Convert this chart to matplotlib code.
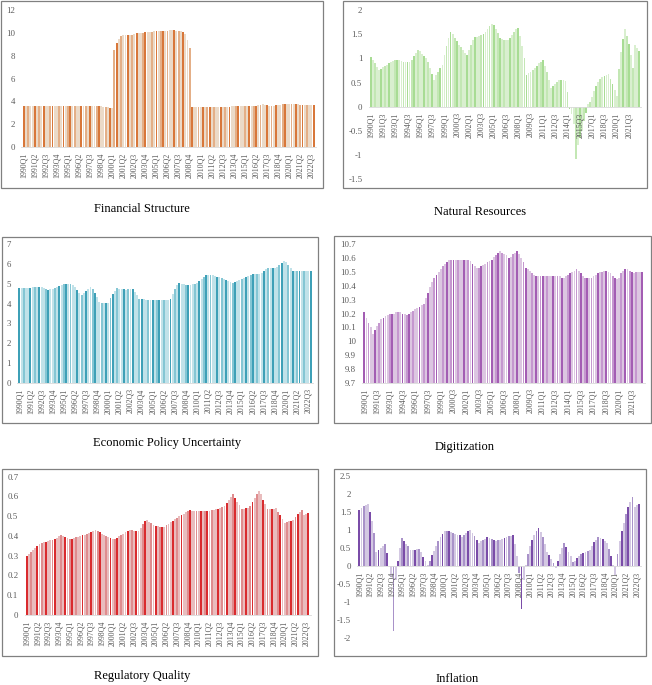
import matplotlib
matplotlib.use('Agg')
import matplotlib.pyplot as plt
from matplotlib.patches import Rectangle

plt.rcParams['font.family'] = ['Liberation Serif', 'DejaVu Serif']

W, H = 652, 685
quarters = [f"{y}Q{q}" for y in range(1990, 2023) for q in range(1, 5)]

financial_structure = [
    3.55, 3.55, 3.58, 3.6, 3.6, 3.58, 3.55, 3.55, 3.58, 3.6,
    3.62, 3.62, 3.62, 3.62, 3.6, 3.6, 3.58, 3.57, 3.57, 3.57,
    3.58, 3.6, 3.62, 3.62, 3.62, 3.62, 3.6, 3.58, 3.58, 3.6,
    3.62, 3.62, 3.6, 3.58, 3.58, 3.55, 3.52, 3.5, 3.48, 3.45,
    3.45,
    8.5, 9.1, 9.5, 9.75, 9.8, 9.8, 9.8, 9.82, 9.85, 9.9,
    9.95, 9.98, 10.0, 10.02, 10.05, 10.07, 10.08, 10.1, 10.12, 10.13,
    10.15, 10.17, 10.18, 10.2, 10.2, 10.22, 10.22, 10.22, 10.2, 10.18,
    10.15, 10.1, 9.9, 9.4, 8.7,
    3.52, 3.52, 3.52, 3.52, 3.52, 3.52, 3.52, 3.52, 3.52, 3.52,
    3.52, 3.5, 3.48, 3.48, 3.48, 3.48, 3.5, 3.52, 3.55, 3.58,
    3.6, 3.6, 3.6, 3.6, 3.58, 3.58, 3.58, 3.58, 3.6, 3.62,
    3.68, 3.72, 3.75, 3.72, 3.68, 3.62, 3.62, 3.62, 3.65, 3.68,
    3.72, 3.78, 3.8, 3.8, 3.8, 3.78, 3.76, 3.75, 3.74, 3.72,
    3.7, 3.7, 3.7, 3.7, 3.7, 3.7]

natural_resources = [
    1.03, 0.97, 0.9, 0.82, 0.75, 0.78, 0.82, 0.85, 0.87, 0.9,
    0.92, 0.95, 0.97, 0.97, 0.96, 0.94, 0.93, 0.92, 0.92,
    0.92, 0.97, 1.05, 1.12, 1.17, 1.15, 1.1, 1.05, 1.0, 0.93,
    0.8, 0.68, 0.55, 0.65, 0.72, 0.8, 0.87, 1.08, 1.25, 1.42,
    1.54, 1.5, 1.43, 1.35, 1.28, 1.23, 1.18, 1.12, 1.08, 1.18,
    1.28, 1.38, 1.45, 1.45, 1.47, 1.48, 1.5, 1.55, 1.6, 1.66,
    1.72, 1.68, 1.6, 1.53, 1.42,
    1.4, 1.39, 1.38, 1.37, 1.42, 1.48, 1.55, 1.6, 1.63, 1.47,
    1.25, 1.0, 0.66, 0.7, 0.72, 0.75, 0.8, 0.85, 0.9, 0.93,
    0.97, 0.85, 0.72, 0.56, 0.38, 0.42, 0.48, 0.52, 0.56, 0.55,
    0.55, 0.54, 0.3, -0.05, -0.15, -0.35, -1.08,
    -0.8, -0.65, -0.5, -0.3, -0.12, 0.05, 0.1, 0.2, 0.32, 0.42,
    0.52, 0.58, 0.62, 0.63, 0.65, 0.67, 0.57, 0.47, 0.35, 0.22,
    0.78, 1.13, 1.4, 1.6, 1.47, 1.3, 1.08, 0.8, 1.28, 1.22, 1.15]

policy_uncertainty = [
    4.8, 4.8, 4.8, 4.8, 4.8, 4.8, 4.82, 4.83, 4.85, 4.85,
    4.82, 4.78, 4.74, 4.71, 4.72, 4.75, 4.78, 4.82, 4.88, 4.95,
    5.0, 5.0, 4.98, 4.97, 4.92, 4.85, 4.7, 4.55, 4.42, 4.55,
    4.65, 4.75, 4.85, 4.75, 4.55, 4.35, 4.1, 4.05, 4.05, 4.03,
    4.02, 4.3, 4.5, 4.65, 4.78, 4.75, 4.73, 4.72, 4.7, 4.72,
    4.72, 4.72, 4.6, 4.45, 4.25, 4.22, 4.22, 4.2, 4.2, 4.2,
    4.2, 4.18, 4.18, 4.17, 4.17, 4.18, 4.2, 4.2, 4.22, 4.5,
    4.75, 4.95, 5.05, 5.0, 4.97, 4.95, 4.93, 4.95, 4.97, 5.0,
    5.05, 5.15, 5.25, 5.35, 5.45, 5.45, 5.45, 5.43, 5.4, 5.37,
    5.33, 5.3, 5.25, 5.2, 5.15, 5.1, 5.05, 5.1, 5.15, 5.2,
    5.25, 5.3, 5.35, 5.4, 5.45, 5.48, 5.48, 5.5, 5.5, 5.55,
    5.65, 5.75, 5.8, 5.82, 5.82, 5.82, 5.85, 5.95, 6.05, 6.15,
    6.08, 5.95, 5.8, 5.65, 5.65, 5.65, 5.65, 5.65, 5.65, 5.65,
    5.65, 5.65]

digitization = [
    10.21, 10.17, 10.13, 10.1, 10.05, 10.08, 10.11, 10.13, 10.16, 10.17,
    10.18, 10.19, 10.2, 10.2, 10.2, 10.21, 10.21, 10.21, 10.2, 10.2,
    10.19, 10.2, 10.21, 10.22, 10.23, 10.24, 10.25, 10.26, 10.27, 10.31,
    10.35, 10.39, 10.43, 10.46, 10.48, 10.5, 10.52, 10.54, 10.56, 10.57,
    10.59, 10.59, 10.59, 10.59, 10.59, 10.59, 10.59, 10.59, 10.59, 10.59,
    10.58, 10.56, 10.54, 10.53, 10.53, 10.54, 10.55, 10.56, 10.57, 10.58,
    10.59, 10.61, 10.62, 10.64, 10.65, 10.64, 10.63, 10.62, 10.6, 10.61,
    10.63, 10.64, 10.65, 10.63, 10.6, 10.57, 10.53, 10.52, 10.51, 10.49,
    10.48, 10.47, 10.47, 10.47, 10.47, 10.47, 10.47, 10.47, 10.47, 10.47,
    10.47, 10.47, 10.47, 10.46, 10.46, 10.47, 10.48, 10.49, 10.5, 10.51,
    10.52, 10.51, 10.49, 10.47, 10.46, 10.46, 10.46, 10.46, 10.47, 10.48,
    10.49, 10.5, 10.5, 10.51, 10.51, 10.5, 10.49, 10.47, 10.46, 10.45,
    10.46, 10.49, 10.51, 10.52, 10.52, 10.51, 10.5, 10.49, 10.5, 10.5,
    10.5, 10.5]

regulatory_quality = [
    0.30, 0.31, 0.32, 0.33, 0.34, 0.35, 0.36, 0.365, 0.37, 0.372,
    0.375, 0.378, 0.38, 0.385, 0.39, 0.398, 0.405, 0.40, 0.395, 0.39,
    0.385, 0.385, 0.39, 0.393, 0.397, 0.40, 0.403, 0.406, 0.41, 0.415,
    0.42, 0.425, 0.43, 0.425, 0.418, 0.41, 0.405, 0.40, 0.395, 0.39,
    0.385, 0.385, 0.39, 0.40, 0.405, 0.41, 0.418, 0.425, 0.43, 0.428,
    0.426, 0.425, 0.423, 0.44, 0.46, 0.475, 0.48, 0.47, 0.465, 0.455,
    0.45, 0.448, 0.447, 0.446, 0.445, 0.455, 0.462, 0.47, 0.478, 0.485,
    0.492, 0.50, 0.506, 0.512, 0.52, 0.525, 0.53, 0.525, 0.525, 0.525,
    0.525, 0.525, 0.525, 0.525, 0.525, 0.528, 0.53, 0.532, 0.535, 0.538,
    0.54, 0.545, 0.55, 0.565, 0.58, 0.595, 0.61, 0.59, 0.57, 0.555,
    0.535, 0.537, 0.54, 0.542, 0.55, 0.57, 0.59, 0.61, 0.63, 0.61,
    0.58, 0.56, 0.535, 0.535, 0.535, 0.537, 0.54, 0.52, 0.505, 0.485,
    0.465, 0.47, 0.475, 0.478, 0.48, 0.495, 0.51, 0.52, 0.53, 0.505,
    0.51, 0.515]

inflation = [
    1.55, 1.6, 1.65, 1.7, 1.73, 1.5, 1.25, 0.92, 0.4, 0.45,
    0.5, 0.55, 0.6, 0.37, 0.0, -0.3, -1.8, -0.4, 0.13, 0.5,
    0.77, 0.7, 0.62, 0.55, 0.45, 0.45, 0.45, 0.47, 0.47, 0.38,
    0.25, 0.13, 0.02, 0.15, 0.3, 0.42, 0.55, 0.68, 0.8, 0.9,
    0.98, 0.97, 0.96, 0.94, 0.92, 0.9, 0.87, 0.85, 0.8, 0.86,
    0.92, 0.97, 1.0, 0.92, 0.82, 0.72, 0.65, 0.68, 0.72, 0.76,
    0.79, 0.77, 0.75, 0.72, 0.7, 0.71, 0.73, 0.75, 0.77, 0.79,
    0.82, 0.84, 0.86, 0.6, 0.28, -0.2, -1.2, -0.4, 0.02, 0.33,
    0.55, 0.72, 0.85, 0.97, 1.05, 0.93, 0.8, 0.62, 0.4, 0.3,
    0.2, 0.08, -0.05, 0.15, 0.33, 0.5, 0.63, 0.53, 0.4, 0.27,
    0.1, 0.15, 0.22, 0.28, 0.34, 0.36, 0.38, 0.41, 0.45, 0.55,
    0.66, 0.73, 0.8, 0.77, 0.74, 0.7, 0.65, 0.47, 0.28, 0.02,
    -0.25, 0.32, 0.7, 0.98, 1.2, 1.45, 1.62, 1.77, 1.92, 1.62,
    1.68, 1.73]

titles = ["Financial Structure", "Natural Resources", "Economic Policy Uncertainty",
          "Digitization", "Regulatory Quality", "Inflation"]

fig = plt.figure(figsize=(W / 100, H / 100), dpi=100)

shade_pattern = [0, 2, 1, 2, 2, 0, 2, 1, 2, 0, 2, 2, 1, 0, 2, 2, 1, 2, 0, 2, 1]

panels = [
    dict(data=financial_structure, box=(1, 1, 323, 188), ax=(21.5, 315.8, 10, 147),
         ylim=(0, 12), yt=[0, 2, 4, 6, 8, 10, 12], step=5, zero_axis=False, base=0,
         colors=('#D8773A', '#E4AF87', '#EBDAC8'), title_xy=(142, 209)),
    dict(data=natural_resources, box=(343, 1, 647, 188), ax=(368.6, 641.3, 10, 179.3),
         ylim=(-1.5, 2), yt=[-1.5, -1, -0.5, 0, 0.5, 1, 1.5, 2], step=6, zero_axis=True, base=0,
         colors=('#A8DC94', '#C3E7B4', '#D9EFCF'), title_xy=(480, 212)),
    dict(data=policy_uncertainty, box=(2, 237, 318, 423), ax=(17.1, 312.8, 244.3, 382.7),
         ylim=(0, 7), yt=[0, 1, 2, 3, 4, 5, 6, 7], step=5, zero_axis=False, base=0,
         colors=('#3EA0B7', '#84C6D4', '#C0E2E9'), title_xy=(167, 443)),
    dict(data=digitization, box=(334, 236, 651, 423), ax=(362.2, 644.5, 244.3, 382.7),
         ylim=(9.7, 10.7), yt=[9.7, 9.8, 9.9, 10.0, 10.1, 10.2, 10.3, 10.4, 10.5, 10.6, 10.7],
         step=6, zero_axis=False, base=9.7,
         colors=('#A35DB3', '#C597CF', '#DCC6E1'), title_xy=(465, 447)),
    dict(data=regulatory_quality, box=(2, 469, 318, 656), ax=(24.5, 310.5, 476.7, 615),
         ylim=(0, 0.7), yt=[0, 0.1, 0.2, 0.3, 0.4, 0.5, 0.6, 0.7], step=5, zero_axis=False, base=0,
         colors=('#D92B2E', '#DF8C8E', '#E9BCBD'), title_xy=(142, 676)),
    dict(data=inflation, box=(334, 469, 646, 656), ax=(357.2, 641, 475.7, 638.3),
         ylim=(-2, 2.5), yt=[-2, -1.5, -1, -0.5, 0, 0.5, 1, 1.5, 2, 2.5], step=5, zero_axis=True, base=0,
         colors=('#7A4CA8', '#A992C9', '#D3C8E2'), title_xy=(457, 679)),
]

for p, title in zip(panels, titles):
    bx0, by0, bx1, by1 = p['box']
    fig.patches.append(Rectangle((bx0 / W, 1 - by1 / H), (bx1 - bx0) / W, (by1 - by0) / H,
                                 transform=fig.transFigure, fill=False,
                                 edgecolor='#808080', linewidth=0.9))
    l, r, yt_, yb = p['ax']
    ax = fig.add_axes([l / W, 1 - yb / H, (r - l) / W, (yb - yt_) / H])
    ax.patch.set_alpha(0)
    for s in ['top', 'right', 'left']:
        ax.spines[s].set_visible(False)
    if p['zero_axis']:
        ax.spines['bottom'].set_position(('data', 0))
    ax.spines['bottom'].set_color('#D9D9D9')
    ax.spines['bottom'].set_linewidth(0.6)
    vals = p['data']
    x = list(range(len(vals)))
    cols = [p['colors'][shade_pattern[i % len(shade_pattern)]] for i in x]
    base = p['base']
    ax.bar(x, [v - base for v in vals], bottom=base, width=0.86, color=cols, linewidth=0)
    ax.set_xlim(-1, len(vals))
    ax.set_ylim(*p['ylim'])
    ax.set_yticks(p['yt'])
    ax.set_yticklabels([f"{v:g}" for v in p['yt']])
    ticks = list(range(0, len(vals), p['step']))
    ax.set_xticks(ticks)
    ax.set_xticklabels([quarters[i] for i in ticks], rotation=90)
    ax.tick_params(axis='both', length=0, labelcolor='#595959')
    ax.tick_params(axis='y', pad=4.5, labelsize=6.3)
    ax.tick_params(axis='x', pad=4, labelsize=5.7)
    fig.text(p['title_xy'][0] / W, 1 - p['title_xy'][1] / H, title, ha='center', va='center',
             fontsize=9, color='#000000')

fig.savefig('out.png', dpi=100)
